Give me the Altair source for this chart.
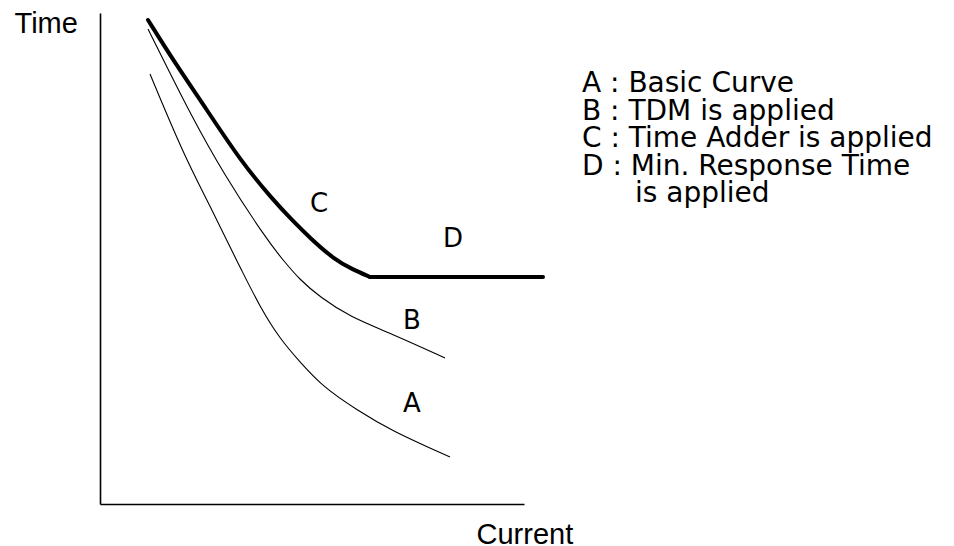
import altair as alt
import pandas as pd

# Curve A : basic curve (arbitrary current / time units)
a_current = [50, 83, 107, 133, 140, 160, 180, 200, 223, 257, 290, 350]
a_time = [430, 351, 304, 251, 237, 197, 165, 142, 117, 94, 74, 47]
# Curve B : TDM applied
b_current = [48, 65, 90, 123, 167, 183, 200, 220, 250, 290, 345]
b_time = [475, 441, 391, 331, 264, 244, 224, 207, 187, 171, 146]
# Curve C : time adder applied
c_current = [48, 73, 107, 140, 173, 192, 210, 235, 252, 270]
c_time = [484, 444, 394, 344, 304, 284, 266, 244, 235, 227]
# Segment D : minimum response time
d_current = [270, 443]
d_time = [227, 227]

# Curve labels
label_text = ["A", "B", "C", "D"]
label_current = [312, 312, 219, 353]
label_time = [100, 183, 300, 265]

# Legend text lines
legend_lines = ["A : Basic Curve", "B : TDM is applied", "C : Time Adder is applied",
                "D : Min. Response Time", "is applied"]
legend_current = [482, 482, 482, 482, 535]
legend_time = [412, 384.5, 357, 329.5, 302]


def series(name, xs, ys):
    return pd.DataFrame({"series": name, "current": xs, "time": ys, "idx": range(len(xs))})


thin_df = pd.concat([series("A", a_current, a_time), series("B", b_current, b_time)])
c_df = series("C", c_current, c_time)
d_df = series("D", d_current, d_time)
labels_df = pd.DataFrame({"label": label_text, "current": label_current, "time": label_time})
legend_df = pd.DataFrame({"label": legend_lines, "current": legend_current, "time": legend_time})

xscale = alt.Scale(domain=[0, 424], nice=False, zero=False)
yscale = alt.Scale(domain=[0, 491], nice=False, zero=False)
xaxis = alt.Axis(ticks=False, labels=False, grid=False, domainColor="black", domainWidth=1.6,
                 title="Current", titleFont="Liberation Sans", titleFontSize=29,
                 titleFontWeight="normal", titleColor="black", titleX=376, titleY=39,
                 titleAlign="left", titleBaseline="alphabetic")
yaxis = alt.Axis(ticks=False, labels=False, grid=False, domainColor="black", domainWidth=1.6,
                 title="Time", titleFont="Liberation Sans", titleFontSize=29,
                 titleFontWeight="normal", titleColor="black", titleAngle=0, titleX=-86,
                 titleY=19, titleAlign="left", titleBaseline="alphabetic")

X = alt.X("current:Q", scale=xscale, axis=xaxis)
Y = alt.Y("time:Q", scale=yscale, axis=yaxis)

thin = alt.Chart(thin_df).mark_line(color="black", strokeWidth=1.1, interpolate="basis").encode(
    x=X, y=Y, detail="series:N", order="idx:Q")
thick_c = alt.Chart(c_df).mark_line(color="black", strokeWidth=4, interpolate="basis",
                                    strokeCap="round").encode(x=X, y=Y, order="idx:Q")
thick_d = alt.Chart(d_df).mark_line(color="black", strokeWidth=4, strokeCap="round").encode(
    x=X, y=Y, order="idx:Q")
labels = alt.Chart(labels_df).mark_text(font="DejaVu Sans", fontSize=26, color="black",
                                        align="center", baseline="middle").encode(
    x=X, y=Y, text="label:N")
legend = alt.Chart(legend_df).mark_text(font="DejaVu Sans", fontSize=28, color="black",
                                        align="left", baseline="alphabetic").encode(
    x=X, y=Y, text="label:N")

chart = alt.layer(thin, thick_c, thick_d, labels, legend).properties(
    width=424, height=491,
    autosize=alt.AutoSizeParams(type="none"),
    padding={"left": 92, "top": 5, "right": 422, "bottom": 46},
    background="white",
).configure_view(stroke=None)

chart.save("out.html", embed_options={"renderer": "svg", "actions": False})
